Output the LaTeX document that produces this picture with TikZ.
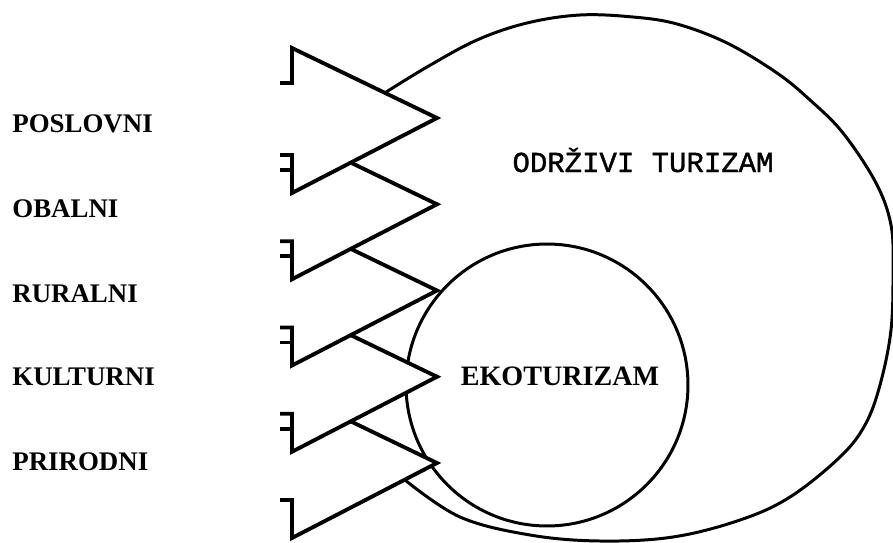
\documentclass[tikz,border=0pt]{standalone}
\usepackage{fontspec}
\setmainfont{Liberation Serif}
\newfontfamily\odrzfont[FakeBold=1.2]{Liberation Mono}
\usepackage{tikz}
\usetikzlibrary{calc}
\tikzstyle{arrowline} = [draw,line width=2.2pt,line join=miter]
\tikzstyle{ring} = [draw,line width=1.7pt]
\tikzstyle{sidetext} = [anchor=base west,inner sep=0pt,font=\fontsize{15.3}{18}\selectfont\bfseries]
\tikzset{intext/.style={anchor=base,inner sep=0pt}}

\begin{document}
\begin{tikzpicture}[x=0.02cm,y=-0.02cm]

  \def\p{86.25};
  \useasboundingbox (0,0) rectangle (893,542);

  % odrzivi turizam
  \draw[ring] plot[smooth,tension=0.6] coordinates {(383,94) (427,67) (477,40) (527,23) (580,15) (633,17) (677,24) (727,43) (777,73) (810,100) (843,133) (876,183) (891,225) (893,270) (891,330) (880,385) (865,425) (840,457) (790,497) (740,520) (673,537) (600,541) (530,535) (460,517) (405,480)};

  % ekoturizam
  \draw[ring] (547,385) circle [radius=2.82cm];

  \foreach \i in {0,...,4} {
    \coordinate (top\i) at (292,{48+\i*\p});
    \coordinate (tip\i) at (437,{118+\i*\p});
    \coordinate (bot\i) at (292,{193+\i*\p});
  }

  % each upper edge starts where it meets the lower edge above
  \foreach \i in {4,3,2,1} {
    \fill[white] (top\i) -- (tip\i) -- (bot\i) -- cycle;
    \path[arrowline] ($(top\i)!0.405!(tip\i)$) -- (tip\i) -- (bot\i) -- ++(0,-38) -- ++(-12,0);
  }

  \fill[white] (top0) -- (tip0) -- (bot0) -- cycle;
  \path[arrowline] (280,83) -- (292,83) -- (top0) -- (tip0) -- (bot0) -- ++(0,-38) -- ++(-12,0);

  \foreach \i in {0,...,3}
    \path[arrowline] (bot\i) ++(0,-23) -- ++(-12,0);

  \foreach \y/\name/\txt in {132/poslovni/POSLOVNI, 217/obalni/OBALNI, 302/ruralni/RURALNI, 385/kulturni/KULTURNI, 470/prirodni/PRIRODNI}
    \node[sidetext] (\name) at (12,\y) {\txt};

  \node[intext,font=\odrzfont\fontsize{16.5}{20}\selectfont] (odrzivi) at (643,172) {ODRŽIVI TURIZAM};
  \node[intext,font=\fontsize{16}{19}\selectfont\bfseries] (eko) at (560,385) {EKOTURIZAM};

\end{tikzpicture}
\end{document}
